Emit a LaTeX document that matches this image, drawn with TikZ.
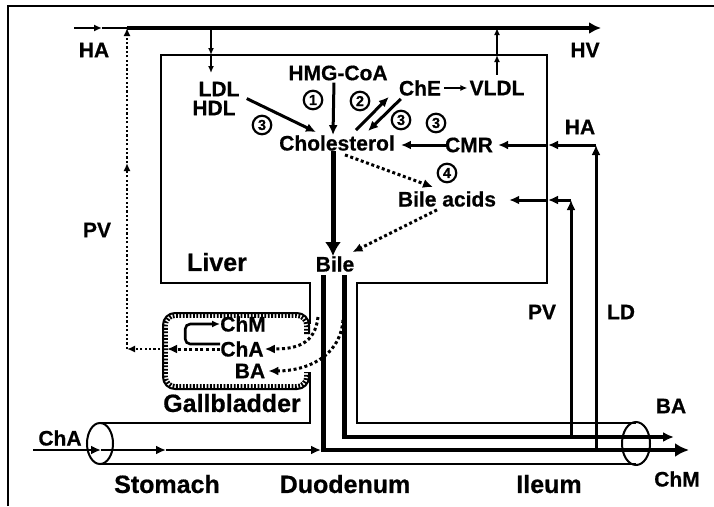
\documentclass[tikz,border=0pt]{standalone}
\usepackage{fontspec}
\setmainfont{Liberation Sans}[BoldFeatures={FakeBold=0.6}]
\usetikzlibrary{arrows.meta,positioning}

\begin{document}
\begin{tikzpicture}[
  x=1pt, y=-1pt,
  >={Latex[length=10pt,width=9pt]},
  lbl/.style={font=\bfseries\fontsize{21}{21}\selectfont, inner sep=0pt},
  organ/.style={font=\bfseries\fontsize{25}{25}\selectfont, inner sep=0pt},
  num/.style={draw, circle, line width=2.2pt, minimum size=18.5pt, inner sep=0pt, font=\bfseries\fontsize{14.5}{14.5}\selectfont},
  wall/.style={line width=2pt},
  arrow/.style={->, line width=3pt},
  thinarrow/.style={->, line width=1.8pt, >={Latex[length=7pt,width=6pt]}},
  fatarrow/.style={->, line width=5pt, >={Latex[length=14pt,width=16pt]}},
  dots/.style={->, line width=3pt, dash pattern=on 3pt off 2.6pt},
  finedots/.style={->, line width=2.2pt, dash pattern=on 2.2pt off 2.2pt, >={Latex[length=8pt,width=7pt]}},
  duct/.style={line width=5pt}
]
\useasboundingbox (0,0) rectangle (714,506);
\draw[line width=1.2pt] (8,506) -- (8,6) -- (714,6);

\node[lbl] (hmg) at (338,73) {HMG-CoA};
\node[lbl] (ldl) at (219,89) {LDL};
\node[lbl] (hdl) at (214,108) {HDL};
\node[lbl] (chol) at (337,143) {Cholesterol};
\node[lbl] (che) at (420,88) {ChE};
\node[lbl] (vldl) at (497,88) {VLDL};
\node[lbl] (cmr) at (469,145) {CMR};
\node[lbl] (bacid) at (447,199) {Bile acids};
\node[lbl] (bile) at (335,264) {Bile};
\node[organ] (liver) at (217,262) {Liver};
\node[organ] (gbl) at (232,403) {Gallbladder};
\node[lbl] (gchm) at (243,324) {ChM};
\node[lbl] (gcha) at (242,349) {ChA};
\node[lbl] (gba) at (250,371) {BA};
\node[lbl] (haL) at (94,50) {HA};
\node[lbl] (hv) at (585,50) {HV};
\node[lbl] (pvL) at (97,230) {PV};
\node[lbl] (haR) at (580,127) {HA};
\node[lbl] (pvR) at (542,312) {PV};
\node[lbl] (ld) at (621,312) {LD};
\node[lbl] (baR) at (671,406) {BA};
\node[lbl] (chmR) at (677,479) {ChM};
\node[lbl] (chaL) at (60,438) {ChA};
\node[organ] (stomach) at (167,484) {Stomach};
\node[organ] (duod) at (345,484) {Duodenum};
\node[organ] (ileum) at (549,484) {Ileum};

\node[num] (n1) at (313,100) {1};
\node[num] (n2) at (360,101) {2};
\node[num] (n3a) at (262,125) {3};
\node[num] (n3b) at (401,120) {3};
\node[num] (n3c) at (436,123) {3};
\node[num] (n4) at (447,173) {4};

\coordinate (haIn) at (74,28);
\coordinate (haMid) at (102,28);
\coordinate (pvTop) at (127,28);
\coordinate (pvMid) at (127,163);
\coordinate (pvC) at (127,349);
\coordinate (gbL) at (167,349);
\coordinate (gbOut) at (160,349);
\coordinate (hvOut) at (601,28);
\coordinate (ldlTop) at (211,28);
\coordinate (ldlWall) at (211,55);
\coordinate (vTop) at (497,28);
\coordinate (vWall) at (497,55);
\coordinate (ldB) at (596,450);
\coordinate (ldT) at (596,145);
\coordinate (cmrWall) at (548,145);
\coordinate (pvB) at (571,437);
\coordinate (pvT) at (571,200);
\coordinate (baWall) at (548,200);
\coordinate (dlT) at (323,275);
\coordinate (dlB) at (323,452);
\coordinate (drT) at (344,275);
\coordinate (drC) at (344,437);
\coordinate (baOut) at (674,437);
\coordinate (chaIn) at (33,450);
\coordinate (stoA) at (101,450);
\coordinate (stoB) at (166,450);
\coordinate (duoIn) at (321,450);
\coordinate (chmOut) at (689,450);
\coordinate (bileA) at (318,317);
\coordinate (bileB) at (343,320);

% liver, gallbladder, gut
\draw[wall] (310,324) -- (310,283) -- (161,283) -- (161,55) -- (547,55) -- (547,283) -- (357,283) -- (357,423) -- (636,423);
\draw[wall] (310,372) -- (310,423) -- (100,423);
\draw[wall] (100,464) -- (636,464);
\draw[wall] (100,443.5) ellipse [x radius=13, y radius=20.5];
\draw[wall] (636,443.5) ellipse [x radius=14, y radius=21.5];
\draw[line width=2pt, rounded corners=12pt] (309,334) -- (309,313) -- (163,313) -- (163,389) -- (309,389) -- (309,372);
\draw[line width=4.6pt, dash pattern=on 1.8pt off 1.6pt, rounded corners=10pt] (306.5,334) -- (306.5,315.5) -- (165.5,315.5) -- (165.5,386.5) -- (306.5,386.5) -- (306.5,372);

% blood
\draw[->, line width=2.4pt, >={Latex[length=8pt,width=7pt]}] (haIn) -- (haMid);
\draw[line width=2.4pt] (haMid) -- (pvTop);
\draw[->, line width=4.5pt, >={Latex[length=12pt,width=12pt]}] (pvTop) -- (hvOut);
\draw[thinarrow] (ldlTop) -- (ldlWall);
\draw[thinarrow] (ldlWall) -- ++(0,18);
\draw[thinarrow] ([yshift=6pt]vldl.north) -- (vWall);
\draw[thinarrow] (vWall) -- (vTop);
\draw[arrow] (ldB) -- (ldT);
\draw[arrow] (ldT) -- (cmrWall);
\draw[arrow, shorten >=5pt] (cmrWall) -- (cmr.east);
\draw[arrow] (pvB) -- (pvT);
\draw[arrow] (pvT) -- (baWall);
\draw[arrow, shorten >=13pt] (baWall) -- (bacid.east |- baWall);

% liver
\draw[arrow, shorten <=2pt] ([xshift=-4pt]hmg.south) -- ([xshift=-4pt]chol.north);
\draw[arrow] ([xshift=11pt,yshift=2pt]hdl.north east) -- ([xshift=-21pt,yshift=3pt]chol.north);
\draw[arrow] ([xshift=19pt,yshift=5pt]chol.north) -- ([xshift=-10pt,yshift=-1pt]che.south west);
\draw[arrow] ([xshift=2pt,yshift=-3pt]che.south west) -- ([xshift=31pt,yshift=4pt]chol.north);
\draw[thinarrow, shorten <=3pt, shorten >=2pt] (che.east) -- (vldl.west);
\draw[arrow, shorten <=-2pt, shorten >=6pt] (cmr.west) -- (cmr.west -| chol.east);
\draw[fatarrow] ([xshift=-4pt]chol.south) -- ([xshift=-2pt]bile.north);
\draw[dots] ([xshift=8pt,yshift=-4pt]chol.south) -- ([xshift=-14pt,yshift=4pt]bacid.north);
\draw[dots] ([xshift=-10pt,yshift=-3pt]bacid.south) -- ([xshift=-2pt,yshift=4pt]bile.north east);

% bile duct and gut
\draw[duct] (dlT) -- (dlB);
\draw[duct] (drT) -- ([yshift=-1.5pt]drC);
\draw[->, line width=3.6pt, >={Latex[length=11pt,width=10pt]}] ([xshift=-2.5pt]drC) -- (baOut);
\draw[->, line width=2.6pt] (chaIn) -- (stoA);
\draw[->, line width=2.6pt] (stoA) -- (stoB);
\draw[->, line width=2.6pt] (stoB) -- (duoIn);
\draw[->, line width=4.5pt, >={Latex[length=14pt,width=14pt]}] (duoIn) -- (chmOut);

% gallbladder
\draw[thinarrow, line width=2.6pt, >={Latex[length=8pt,width=7pt]}, rounded corners=5pt] ([yshift=5pt]gcha.west) -- ++(-35,0) |- (gchm.west);
\draw[dots] (gcha.west) -- (gbL);
\draw[finedots] (gbOut) -- (pvC);
\draw[finedots] (pvC) -- (pvMid);
\draw[finedots] (pvMid) -- (pvTop);
\draw[dots, shorten >=1pt] (bileA) .. controls (315,345) and (295,349) .. (gcha.east);
\draw[dots, shorten >=3pt] (bileB) .. controls (340,358) and (305,371) .. (gba.east);
\end{tikzpicture}
\end{document}
